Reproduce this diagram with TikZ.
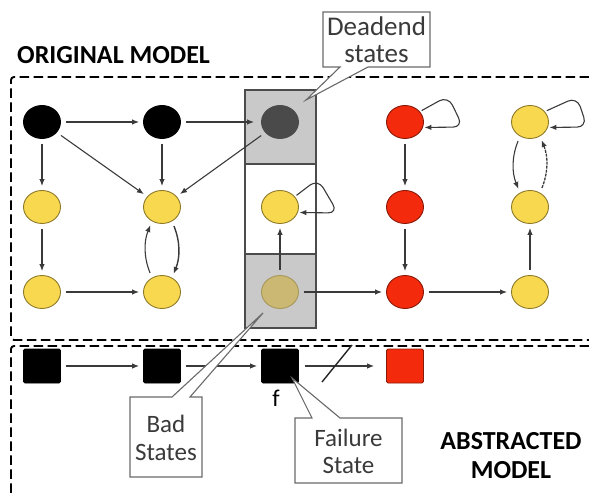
\documentclass[tikz,border=0pt]{standalone}
\usepackage{fontspec}
\setmainfont{Carlito}
\usetikzlibrary{arrows.meta,shapes.geometric}
\definecolor{yfill}{HTML}{F8D84E}
\definecolor{ydraw}{HTML}{8E7A2A}
\definecolor{rfill}{HTML}{F42A0C}
\definecolor{rdraw}{HTML}{8A1A08}
\definecolor{dgfill}{HTML}{4A4A4A}
\definecolor{olfill}{HTML}{CBB873}
\definecolor{oldraw}{HTML}{A8985A}
\definecolor{boxgrey}{HTML}{C9C9C9}
\definecolor{edgegrey}{HTML}{3A3A3A}
\definecolor{callgrey}{HTML}{6A6A6A}
\definecolor{calltext}{HTML}{3A3A3A}
\tikzset{
  st/.style={ellipse, minimum width=37pt, minimum height=33pt, inner sep=0pt, line width=0.9pt},
  blk/.style={st, fill=black, draw=black},
  yel/.style={st, fill=yfill, draw=ydraw},
  red/.style={st, fill=rfill, draw=rdraw},
  dg/.style={st, fill=dgfill, draw=dgfill},
  ol/.style={st, fill=olfill, draw=oldraw},
  sq/.style={rectangle, rounded corners=1.5pt, minimum width=37pt, minimum height=34pt, inner sep=0pt, line width=0.8pt},
  arr/.style={draw=edgegrey, line width=1.1pt, -{Latex[length=7pt,width=5.5pt]}, shorten >=4pt, shorten <=5pt},
  dashbox/.style={line width=1.9pt, dash pattern=on 9.5pt off 4.5pt, rounded corners=3pt},
  callout/.style={draw=callgrey, fill=white, line width=1.1pt, line join=miter},
  calltxt/.style={text=calltext, align=center, inner sep=0pt},
  title/.style={font=\bfseries\fontsize{26}{30}\selectfont, inner sep=0pt, align=center}
}
\begin{document}
\begin{tikzpicture}[x=1pt,y=1pt]
\useasboundingbox (0,0) rectangle (589,496);
% dashed frames
\draw[dashbox] (589,419) -- (11,419) -- (11,156) -- (589,156);
\draw[dashbox] (589,150) -- (11,150) -- (11,-5);
% titles
\node[title, anchor=west] (torig) at (17,441) {ORIGINAL MODEL};
\node[title] (tabs) at (511,40) {ABSTRACTED\\[-1pt]MODEL};
% grey column
\draw[line width=1.3pt, draw=black!70, fill=boxgrey] (245,406) rectangle (316,332);
\draw[line width=1.3pt, draw=black!70, fill=white] (245,332) rectangle (316,242);
\draw[line width=1.3pt, draw=black!70, fill=boxgrey] (245,242) rectangle (316,168);
% states
\node[blk] (b1) at (42,374) {};
\node[blk] (b2) at (162,374) {};
\node[dg]  (d1) at (280,374) {};
\node[red] (r1) at (405,374) {};
\node[yel] (y15) at (530,374) {};
\node[yel] (y21) at (42,289) {};
\node[yel] (y22) at (162,289) {};
\node[yel] (y23) at (280,289) {};
\node[red] (r2) at (405,289) {};
\node[yel] (y25) at (530,289) {};
\node[yel] (y31) at (42,204) {};
\node[yel] (y32) at (162,204) {};
\node[ol]  (o3) at (280,204) {};
\node[red] (r3) at (405,204) {};
\node[yel] (y35) at (530,204) {};
% edges
\draw[arr] (b1) -- (b2);
\draw[arr, shorten >=7pt] (b2) -- (d1);
\draw[arr] (b1) -- (y21);
\draw[arr] (b1) -- (y22);
\draw[arr] (b2) -- (y22);
\draw[arr] (d1) -- (y22);
\draw[arr] (y21) -- (y31);
\draw[arr] (y31) -- (y32);
\draw[arr] (y32.125) to[bend left=22] (y22.235);
\draw[arr, line width=1.4pt] (y22.-55) to[bend left=22] (y32.55);
\draw[arr] (o3) -- (y23);
\draw[arr] (o3) -- (r3);
\draw[arr] (r1) -- (r2);
\draw[arr] (r2) -- (r3);
\draw[arr] (r3) -- (y35);
\draw[arr] (y35) -- (y25);
\draw[arr] (y15.235) to[bend right=22] (y25.125);
\draw[arr, dash pattern=on 3pt off 1pt, line width=1.3pt] (y25.55) to[bend right=22] (y15.-55);
% self loops
\draw[arr, rounded corners=10pt, shorten <=2pt, shorten >=1.5pt] (y23.35) -- (318,317) -- (338,283) -- (y23.-17);
\draw[arr, rounded corners=10pt, shorten <=2pt, shorten >=1.5pt] (r1.35) -- (448,400) -- (463,369) -- (r1.-17);
\draw[arr, rounded corners=10pt, shorten <=2pt, shorten >=1.5pt] (y15.35) -- (577,399) -- (587,369) -- (y15.-17);
% abstracted model
\node[sq, fill=black, draw=black] (s1) at (42,130) {};
\node[sq, fill=black, draw=black] (s2) at (162,130) {};
\node[sq, fill=black, draw=black] (s3) at (280,130) {};
\node[sq, fill=rfill, draw=rdraw] (s4) at (405,130) {};
\node[font=\fontsize{24}{26}\selectfont, inner sep=0pt] (flab) at (276,98) {f};
\draw[arr] (s1) -- (s2);
\draw[arr] (s2) -- (s3);
\draw[arr, shorten <=6pt, shorten >=12pt] (s3) -- (s4);
\coordinate (sl1) at (322,114);
\coordinate (sl2) at (352,151);
\draw[line width=1.4pt, draw=black!85] (sl1) -- (sl2);
% callouts
\draw[callout] (323,484) -- (430,484) -- (430,429) -- (368,429) -- (306,396) -- (340,429) -- (323,429) -- cycle;
\node[calltxt, font=\fontsize{27}{27}\selectfont] (cdead) at (376.5,456) {Deadend\\states};
\draw[callout] (130,99) -- (172,99) -- (263,183) -- (190,99) -- (202,99) -- (202,19) -- (130,19) -- cycle;
\node[calltxt, font=\fontsize{25}{28}\selectfont] (cbad) at (166,58) {Bad\\States};
\draw[callout] (295,78) -- (312,78) -- (292,118) -- (340,78) -- (402,78) -- (402,13) -- (295,13) -- cycle;
\node[calltxt, font=\fontsize{25}{27}\selectfont] (cfail) at (348.5,45) {Failure\\State};
\end{tikzpicture}
\end{document}
